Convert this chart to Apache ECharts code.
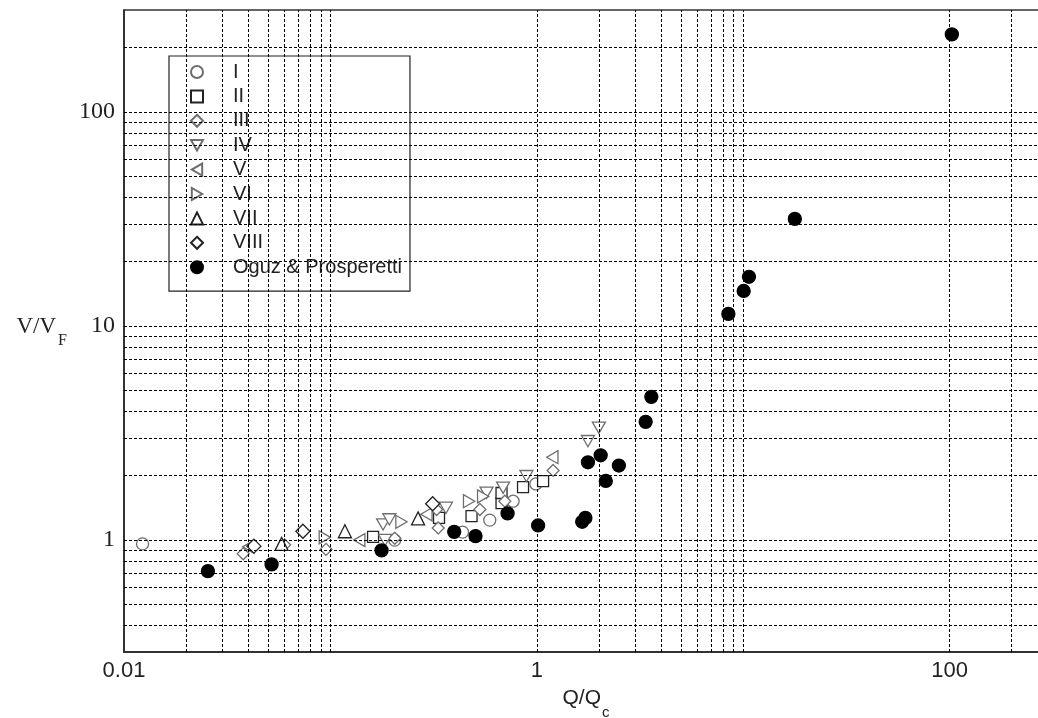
<!DOCTYPE html>
<html><head><meta charset="utf-8">
<script src="https://cdn.jsdelivr.net/npm/echarts@6/dist/echarts.min.js"></script>
<style>html,body{margin:0;padding:0;background:#fff}#c{width:1038px;height:718px}</style>
</head><body><div id="c"></div>
<script>
// ---- data (Q/Qc, V/VF) ----
const seriesNames = ['I','II','III','IV','V','VI','VII','VIII','Oguz & Prosperetti'];
const dataI    = [[0.0123,0.96],[0.205,1.0],[0.437,1.09],[0.592,1.24],[0.768,1.52],[0.99,1.83]];
const dataII   = [[0.161,1.036],[0.336,1.27],[0.483,1.295],[0.675,1.49],[0.675,1.66],[0.858,1.77],[1.073,1.886]];
const dataIII  = [[0.0378,0.863],[0.06,0.95],[0.0953,0.905],[0.205,1.02],[0.327,1.39],[0.333,1.14],[0.53,1.39],[0.70,1.52],[1.2,2.116]];
const dataIV   = [[0.18,1.184],[0.193,1.25],[0.184,1.0],[0.363,1.415],[0.571,1.664],[0.687,1.756],[0.891,1.99],[1.77,2.9],[2.0,3.35]];
const dataV    = [[0.040,0.93],[0.138,1.0],[0.292,1.32],[1.19,2.44]];
const dataVI   = [[0.094,1.03],[0.221,1.218],[0.47,1.52],[0.55,1.6]];
const dataVII  = [[0.058,0.96],[0.1176,1.10],[0.266,1.263]];
const dataVIII = [[0.0426,0.937],[0.0736,1.10],[0.313,1.478]];
const dataOguz = [[0.0255,0.716],[0.0519,0.77],[0.177,0.895],[0.398,1.093],[0.505,1.044],[0.722,1.333],
                  [1.015,1.171],[1.66,1.218],[1.72,1.27],[1.77,2.31],[2.04,2.49],[2.16,1.89],[2.5,2.23],
                  [3.37,3.57],[3.59,4.67],[8.48,11.4],[10.06,14.6],[10.67,17.0],[17.8,31.7],[102.6,230.7]];
// tick labels and grid-line positions
const xTickLabels = [0.01, 1, 100];
const yTickLabels = [1, 10, 100];
const xGridValues = [0.02,0.03,0.04,0.05,0.06,0.07,0.08,0.09,0.1,1,2,3,4,5,6,7,8,9,10,100,200];
const yGridValues = [0.4,0.5,0.6,0.7,0.8,0.9,1,2,3,4,5,6,7,8,9,10,20,30,40,50,60,70,80,90,100,200];

const allData = [dataI,dataII,dataIII,dataIV,dataV,dataVI,dataVII,dataVIII,dataOguz];
const grey = '#6e6e6e', dark = '#222';
const triDown  = 'path://M0,0L10,0L5,8.66Z';
const triLeft  = 'path://M8.66,0L8.66,10L0,5Z';
const triRight = 'path://M0,0L0,10L8.66,5Z';
const styles = [
  {symbol:'circle', size:12, stroke:grey, fill:'#fff'},
  {symbol:'rect', size:11, stroke:dark, fill:'#fff'},
  {symbol:'diamond', size:12, stroke:grey, fill:'#fff'},
  {symbol:triDown, size:13, stroke:grey, fill:'#fff'},
  {symbol:triLeft, size:13, stroke:grey, fill:'#fff'},
  {symbol:triRight, size:13, stroke:grey, fill:'#fff'},
  {symbol:'triangle', size:13, stroke:dark, fill:'#fff'},
  {symbol:'diamond', size:14, stroke:dark, fill:'#fff'},
  {symbol:'circle', size:13, stroke:'#000', fill:'#000'}
];
function isIn(list, v){ return list.some(l => Math.abs(v - l) / l < 1e-6); }
function pick(list, v){ return list.find(l => Math.abs(v - l) / l < 1e-6); }

const series = seriesNames.map((n, i) => ({
  name: n, type: 'scatter', data: allData[i], z: 3,
  symbol: styles[i].symbol, symbolSize: styles[i].size, symbolKeepAspect: true,
  itemStyle: {color: styles[i].fill, borderColor: styles[i].stroke, borderWidth: 1.3, opacity: 1},
  emphasis: {disabled: true}
}));
series.unshift({
  name: 'grid', type: 'scatter', data: [], z: 1, silent: true,
  markLine: {
    silent: true, symbol: 'none', animation: false, label: {show: false},
    lineStyle: {color: '#000', width: 1, type: [3, 2]},
    emphasis: {disabled: true},
    data: xGridValues.map(v => ({xAxis: v})).concat(yGridValues.map(v => ({yAxis: v})))
  }
});

const chart = echarts.init(document.getElementById('c'), null, {renderer: 'canvas'});
chart.setOption({
  animation: false,
  backgroundColor: '#fff',
  grid: {left: 124, top: 10, right: -10, bottom: 66, containLabel: false, outerBoundsMode: 'none',
         show: true, borderColor: '#333', borderWidth: 1.5},
  xAxis: {
    type: 'log', logBase: 10, min: 0.01, max: 300,
    axisLine: {show: true, lineStyle: {color: '#222', width: 1.5}},
    axisTick: {show: false}, splitLine: {show: false},
    axisLabel: {margin: 8, fontFamily: 'Liberation Sans', fontSize: 22, color: '#222', showMinLabel: true,
      formatter: v => isIn(xTickLabels, v) ? String(pick(xTickLabels, v)) : ''},
    name: '{a|Q/Q}{b|c}', nameLocation: 'middle', nameGap: 36, nameMoveOverlap: false,
    nameTextStyle: {verticalAlign: 'top', rich: {
      a: {fontFamily: 'Liberation Sans', fontSize: 21, color: '#222', lineHeight: 21},
      b: {fontFamily: 'Liberation Sans', fontSize: 15, color: '#222', lineHeight: 15, padding: [28, 0, 0, 1]}
    }}
  },
  yAxis: {
    type: 'log', logBase: 10, min: 0.3, max: 300,
    axisLine: {show: true, lineStyle: {color: '#222', width: 1.5}},
    axisTick: {show: false}, splitLine: {show: false},
    axisLabel: {margin: 9, fontFamily: 'Liberation Serif', fontSize: 24, color: '#222',
      formatter: v => isIn(yTickLabels, v) ? String(pick(yTickLabels, v)) : ''},
    name: '{a|V/V}{b|F}', nameLocation: 'middle', nameRotate: 0, nameGap: 57, nameMoveOverlap: false,
    nameTextStyle: {padding: [0, 0, 8, 0], rich: {
      a: {fontFamily: 'Liberation Serif', fontSize: 23, color: '#222', lineHeight: 23},
      b: {fontFamily: 'Liberation Serif', fontSize: 16, color: '#222', lineHeight: 16, padding: [28, 0, 0, 2]}
    }}
  },
  legend: {
    data: seriesNames, orient: 'vertical', left: 169, top: 56,
    padding: [6, 8, 14, 21], itemWidth: 12, itemHeight: 12, itemGap: 4.4,
    backgroundColor: '#fff', borderColor: '#222', borderWidth: 1.2,
    selectedMode: false,
    textStyle: {fontFamily: 'Liberation Sans', fontSize: 20, color: '#222', padding: [0, 0, 0, 25]}
  },
  series: series
});
</script>
</body></html>
